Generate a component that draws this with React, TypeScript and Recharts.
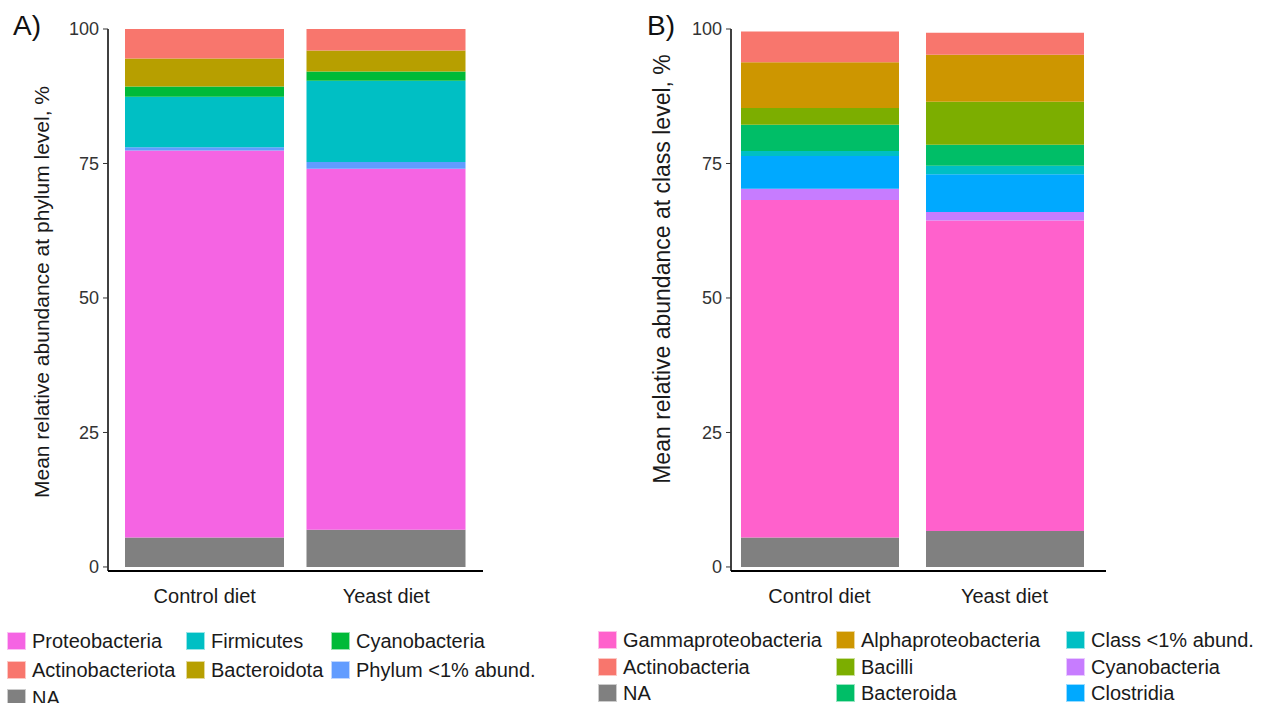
import React from 'react';
import { BarChart, Bar, XAxis, YAxis } from 'recharts';

// categories on the x axis
const diets = ['Control diet', 'Yeast diet'];
const yTicks = [0, 25, 50, 75, 100];

// A) phylum level, % (bottom to top of each stack)
const phylumNA = [5.5, 6.9];
const proteobacteria = [71.9, 67.1];
const phylumRare = [0.6, 1.3];
const firmicutes = [9.4, 15.1];
const cyanobacteriaPhylum = [1.9, 1.7];
const bacteroidota = [5.2, 3.9];
const actinobacteriota = [5.5, 4.0];

// B) class level, % (bottom to top of each stack)
const classNA = [5.5, 6.7];
const gammaproteobacteria = [62.7, 57.7];
const cyanobacteriaClass = [2.1, 1.6];
const clostridia = [6.1, 7.0];
const classRare = [0.9, 1.6];
const bacteroida = [4.9, 3.9];
const bacilli = [3.1, 8.0];
const alphaproteobacteria = [8.5, 8.7];
const actinobacteria = [5.75, 4.1];

const FONT = '"Liberation Sans", Arial, sans-serif';

const phylumSeries = [
  { key: 'NA', values: phylumNA, color: '#808080' },
  { key: 'Proteobacteria', values: proteobacteria, color: '#F564E3' },
  { key: 'Phylum <1% abund.', values: phylumRare, color: '#619CFF' },
  { key: 'Firmicutes', values: firmicutes, color: '#00BFC4' },
  { key: 'Cyanobacteria', values: cyanobacteriaPhylum, color: '#00BA38' },
  { key: 'Bacteroidota', values: bacteroidota, color: '#B79F00' },
  { key: 'Actinobacteriota', values: actinobacteriota, color: '#F8766D' },
];

const classSeries = [
  { key: 'NA', values: classNA, color: '#808080' },
  { key: 'Gammaproteobacteria', values: gammaproteobacteria, color: '#FF61CC' },
  { key: 'Cyanobacteria', values: cyanobacteriaClass, color: '#C77CFF' },
  { key: 'Clostridia', values: clostridia, color: '#00A9FF' },
  { key: 'Class <1% abund.', values: classRare, color: '#00BFC4' },
  { key: 'Bacteroida', values: bacteroida, color: '#00BE67' },
  { key: 'Bacilli', values: bacilli, color: '#7CAE00' },
  { key: 'Alphaproteobacteria', values: alphaproteobacteria, color: '#CD9600' },
  { key: 'Actinobacteria', values: actinobacteria, color: '#F8766D' },
];

// legend layout (row-major like the figure)
const phylumLegend = [
  ['Proteobacteria', 'Firmicutes', 'Cyanobacteria'],
  ['Actinobacteriota', 'Bacteroidota', 'Phylum <1% abund.'],
  ['NA'],
];
const classLegend = [
  ['Gammaproteobacteria', 'Alphaproteobacteria', 'Class <1% abund.'],
  ['Actinobacteria', 'Bacilli', 'Cyanobacteria'],
  ['NA', 'Bacteroida', 'Clostridia'],
];

type Series = { key: string; values: number[]; color: string };

function buildRows(series: Series[]) {
  return diets.map((d, i) => {
    const row: Record<string, string | number> = { diet: d };
    series.forEach(s => {
      row[s.key] = s.values[i];
    });
    return row;
  });
}

function StackChart({ series, left, xPad, barSize }: {
  series: Series[];
  left: number;
  xPad: { left: number; right: number };
  barSize: number;
}) {
  const data = buildRows(series);
  return (
    <div style={{ position: 'absolute', left, top: 0 }}>
      <BarChart
        width={500}
        height={620}
        data={data}
        margin={{ top: 29, right: 17, bottom: 0, left: 0 }}
      >
        <XAxis
          dataKey="diet"
          height={49}
          padding={xPad}
          tickLine={false}
          tickSize={0}
          tickMargin={18}
          axisLine={{ stroke: '#000', strokeWidth: 2 }}
          tick={{ fill: '#1a1a1a', fontSize: 20, fontFamily: FONT }}
        />
        <YAxis
          type="number"
          width={108}
          domain={[-0.75, 100]}
          ticks={yTicks}
          allowDataOverflow
          tickSize={5}
          tickMargin={4}
          axisLine={{ stroke: '#000', strokeWidth: 1.5 }}
          tickLine={{ stroke: '#333' }}
          tick={{ fill: '#333', fontSize: 18, fontFamily: FONT }}
        />
        {series.map(s => (
          <Bar
            key={s.key}
            dataKey={s.key}
            stackId="a"
            fill={s.color}
            barSize={barSize}
            isAnimationActive={false}
          />
        ))}
      </BarChart>
    </div>
  );
}

function LegendBlock({ rows, series, left, top, cols, rowGap }: {
  rows: string[][];
  series: Series[];
  left: number;
  top: number;
  cols: number[];
  rowGap: number;
}) {
  const colorOf = (k: string) => series.find(s => s.key === k)?.color ?? '#808080';
  return (
    <>
      {rows.map((r, ri) =>
        r.map((name, ci) => (
          <div
            key={name + ri}
            style={{
              position: 'absolute',
              left: left + cols[ci],
              top: top + ri * rowGap,
              display: 'flex',
              alignItems: 'center',
              fontFamily: FONT,
              fontSize: 20,
              color: '#1a1a1a',
              whiteSpace: 'nowrap',
              lineHeight: '18px',
            }}
          >
            <span
              style={{
                display: 'inline-block',
                width: 17,
                height: 16,
                background: colorOf(name),
                border: '1px solid rgba(255,255,255,0.6)',
                marginRight: 6,
              }}
            />
            {name}
          </div>
        ))
      )}
    </>
  );
}

function YTitle({ text, x, y, size }: { text: string; x: number; y: number; size: number }) {
  return (
    <div
      style={{
        position: 'absolute',
        left: x,
        top: y,
        transform: 'translate(-50%, -50%) rotate(-90deg)',
        fontFamily: FONT,
        fontSize: size,
        color: '#1a1a1a',
        whiteSpace: 'nowrap',
      }}
    >
      {text}
    </div>
  );
}

export default function App() {
  return (
    <div
      style={{
        position: 'absolute',
        left: 0,
        top: 0,
        width: 1262,
        height: 703,
        background: '#fff',
        overflow: 'hidden',
      }}
    >
      <StackChart series={phylumSeries} left={0} xPad={{ left: 6, right: 6 }} barSize={159} />
      <StackChart series={classSeries} left={623} xPad={{ left: -4, right: 9 }} barSize={158} />

      <div style={{ position: 'absolute', left: 13, top: 10, fontFamily: FONT, fontSize: 28, color: '#111' }}>A)</div>
      <div style={{ position: 'absolute', left: 647, top: 10, fontFamily: FONT, fontSize: 28, color: '#111' }}>B)</div>

      <YTitle text="Mean relative abundance at phylum level, %" x={42} y={292} size={21} />
      <YTitle text="Mean relative abundance at class level, %" x={662} y={269} size={23} />

      <LegendBlock rows={phylumLegend} series={phylumSeries} left={7} top={632} cols={[0, 179, 324]} rowGap={28.7} />
      <LegendBlock rows={classLegend} series={classSeries} left={598} top={631} cols={[0, 238, 468]} rowGap={26.7} />
    </div>
  );
}
